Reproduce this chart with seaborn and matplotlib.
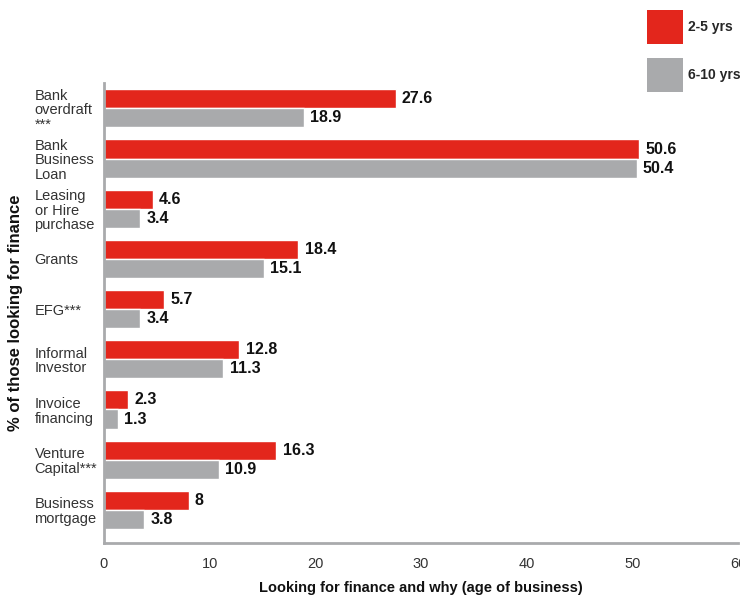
import matplotlib
matplotlib.use("Agg")
import matplotlib.pyplot as plt
import seaborn as sns
import pandas as pd
from matplotlib.patches import Patch

categories = [
    "Bank\noverdraft\n***",
    "Bank\nBusiness\nLoan",
    "Leasing\nor Hire\npurchase",
    "Grants",
    "EFG***",
    "Informal\nInvestor",
    "Invoice\nfinancing",
    "Venture\nCapital***",
    "Business\nmortgage",
]
series_names = ["2-5 yrs", "6-10 yrs"]
young_values = [27.6, 50.6, 4.6, 18.4, 5.7, 12.8, 2.3, 16.3, 8]
older_values = [18.9, 50.4, 3.4, 15.1, 3.4, 11.3, 1.3, 10.9, 3.8]
value_labels_young = ["27.6", "50.6", "4.6", "18.4", "5.7", "12.8", "2.3", "16.3", "8"]
value_labels_older = ["18.9", "50.4", "3.4", "15.1", "3.4", "11.3", "1.3", "10.9", "3.8"]
x_ticks = [0, 10, 20, 30, 40, 50, 60]

RED = "#E3261C"
GREY = "#A9AAAC"

df = pd.DataFrame({
    "category": categories * 2,
    "series": [series_names[0]] * len(categories) + [series_names[1]] * len(categories),
    "value": young_values + older_values,
})

sns.set_theme(style="white")
plt.rcParams["font.family"] = ["Liberation Sans", "DejaVu Sans"]

fig = plt.figure(figsize=(7.40, 5.97), dpi=100)
ax = fig.add_axes([0.1405, 0.0905, 0.857, 0.770])

sns.barplot(
    data=df, y="category", x="value", hue="series",
    order=categories, hue_order=series_names,
    palette=[RED, GREY], orient="h", width=0.76,
    saturation=1, legend=False, ax=ax,
)

for container, labels in zip(ax.containers, [value_labels_young, value_labels_older]):
    ax.bar_label(container, labels=labels, padding=4.5, fontsize=11.5,
                 fontweight="bold", color="#111111")

ax.set_xlim(0, 60)
ax.set_ylim(8.66, -0.5)
ax.set_xticks(x_ticks)
ax.set_xticklabels([str(t) for t in x_ticks], fontsize=10.5, color="#333333")
ax.tick_params(axis="x", length=0, pad=10)
ax.tick_params(axis="y", length=0, pad=50)
for lbl in ax.get_yticklabels():
    lbl.set_horizontalalignment("left")
    lbl.set_fontsize(10.5)
    lbl.set_color("#333333")
    lbl.set_linespacing(1.05)

for side in ["top", "right"]:
    ax.spines[side].set_visible(False)
for side in ["left", "bottom"]:
    ax.spines[side].set_color("#A9AAAC")
    ax.spines[side].set_linewidth(2)

ax.set_xlabel("Looking for finance and why (age of business)", fontsize=10.5,
              fontweight="bold", color="#111111", labelpad=7)
ax.set_ylabel("% of those looking for finance", fontsize=12,
              fontweight="bold", color="#111111")
ax.yaxis.set_label_coords(-0.127, 0.5)

handles = [Patch(facecolor=RED, edgecolor="none"), Patch(facecolor=GREY, edgecolor="none")]
fig.legend(handles, series_names, loc="upper right", bbox_to_anchor=(1.005, 0.988),
           frameon=False, handlelength=2.6, handleheight=3.4, labelspacing=1.0,
           handletextpad=0.35, borderaxespad=0.0, borderpad=0.2,
           prop={"weight": "bold", "size": 10})

fig.savefig("out.png", dpi=100)
